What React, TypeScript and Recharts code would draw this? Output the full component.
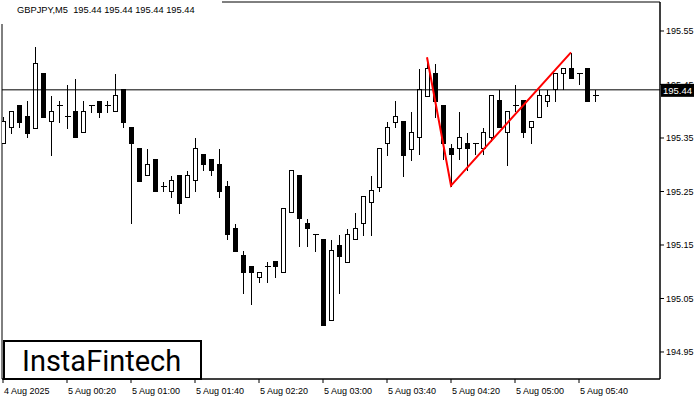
import React from "react";
import {
  ComposedChart,
  Bar,
  Line,
  XAxis,
  YAxis,
  ReferenceLine,
  ReferenceArea,
} from "recharts";

// GBPJPY M5 candles, one every 5 minutes from 4 Aug 23:40
const opens = [
  195.34, 195.37, 195.412, 195.391, 195.369, 195.471, 195.381, 195.411, 195.391, 195.4,
  195.361, 195.411, 195.42, 195.411, 195.4, 195.441, 195.371, 195.331, 195.28, 195.31,
  195.26, 195.25, 195.28, 195.24, 195.271, 195.32, 195.31, 195.301, 195.26, 195.181,
  195.131, 195.111, 195.09, 195.111, 195.121, 195.1, 195.211, 195.281, 195.192, 195.171,
  195.161, 195.009, 195.15, 195.119, 195.161, 195.191, 195.23, 195.259, 195.34, 195.38,
  195.382, 195.329, 195.351, 195.429, 195.471, 195.412, 195.332, 195.331, 195.34, 195.34,
  195.331, 195.351, 195.421, 195.361, 195.412, 195.421, 195.37, 195.39, 195.42, 195.441,
  195.471, 195.48, 195.471, 195.48, 195.43,
];
const highs = [
  195.391, 195.4, 195.412, 195.421, 195.522, 195.471, 195.43, 195.421, 195.451, 195.462,
  195.421, 195.412, 195.421, 195.421, 195.471, 195.441, 195.371, 195.331, 195.331, 195.31,
  195.27, 195.28, 195.28, 195.29, 195.351, 195.32, 195.31, 195.331, 195.271, 195.191,
  195.141, 195.111, 195.1, 195.121, 195.121, 195.22, 195.29, 195.281, 195.201, 195.171,
  195.161, 195.161, 195.171, 195.181, 195.212, 195.242, 195.281, 195.331, 195.382, 195.421,
  195.382, 195.4, 195.48, 195.501, 195.491, 195.412, 195.34, 195.4, 195.361, 195.34,
  195.371, 195.43, 195.441, 195.4, 195.451, 195.421, 195.382, 195.441, 195.441, 195.471,
  195.48, 195.51, 195.471, 195.48, 195.441,
];
const lows = [
  195.34, 195.36, 195.37, 195.351, 195.369, 195.39, 195.319, 195.38, 195.369, 195.351,
  195.361, 195.399, 195.39, 195.399, 195.4, 195.37, 195.191, 195.27, 195.28, 195.25,
  195.25, 195.24, 195.21, 195.24, 195.25, 195.29, 195.28, 195.24, 195.161, 195.139,
  195.06, 195.039, 195.08, 195.08, 195.09, 195.1, 195.211, 195.149, 195.149, 195.139,
  195.0, 195.009, 195.06, 195.119, 195.161, 195.169, 195.169, 195.25, 195.318, 195.37,
  195.279, 195.309, 195.32, 195.429, 195.389, 195.31, 195.261, 195.31, 195.29, 195.32,
  195.32, 195.345, 195.37, 195.3, 195.401, 195.351, 195.34, 195.39, 195.41, 195.42,
  195.441, 195.462, 195.45, 195.42, 195.42,
];
const closes = [
  195.382, 195.4, 195.38, 195.36, 195.491, 195.39, 195.4, 195.411, 195.391, 195.351,
  195.4, 195.411, 195.399, 195.411, 195.43, 195.38, 195.34, 195.27, 195.301, 195.25,
  195.26, 195.271, 195.229, 195.28, 195.331, 195.301, 195.29, 195.25, 195.17, 195.139,
  195.1, 195.1, 195.1, 195.111, 195.11, 195.22, 195.29, 195.2, 195.181, 195.171,
  195.0, 195.141, 195.13, 195.171, 195.181, 195.242, 195.252, 195.331, 195.37, 195.391,
  195.318, 195.361, 195.441, 195.48, 195.42, 195.34, 195.32, 195.351, 195.331, 195.34,
  195.361, 195.43, 195.37, 195.4, 195.412, 195.361, 195.382, 195.43, 195.43, 195.471,
  195.48, 195.462, 195.471, 195.42, 195.43,
];

const timeTickBars = [0, 8, 16, 24, 32, 40, 48, 56, 64, 72];
const timeTickLabels = [
  "4 Aug 2025",
  "5 Aug 00:20",
  "5 Aug 01:00",
  "5 Aug 01:40",
  "5 Aug 02:20",
  "5 Aug 03:00",
  "5 Aug 03:40",
  "5 Aug 04:20",
  "5 Aug 05:00",
  "5 Aug 05:40",
];
const priceTicks = [194.95, 195.05, 195.15, 195.25, 195.35, 195.45, 195.55];

// red pattern line: top, bottom, top
const patternBars = [53, 56, 71];
const patternPrices = [195.501, 195.261, 195.51];

const lastPrice = 195.44;

const X_DOMAIN: [number, number] = [-0.125, 82.125];
const Y_DOMAIN: [number, number] = [194.8995, 195.6042];
const FONT = "'Liberation Sans', Arial, sans-serif";

const data = opens.map((o, i) => {
  const k = patternBars.indexOf(i);
  return {
    i,
    open: o,
    high: highs[i],
    low: lows[i],
    close: closes[i],
    range: [lows[i], highs[i]],
    pattern: k >= 0 ? patternPrices[k] : null,
  };
});

function Candle(props: any) {
  const { x, y, width, height, payload } = props;
  if (!payload) return null;
  const cx = Math.round(x + width / 2) + 0.5;
  const k = Math.abs(height) / (payload.high - payload.low);
  const top = Math.min(y, y + height);
  const py = (p: number) => top + (payload.high - p) * k;
  const yh = Math.round(py(payload.high)) + 0.5;
  const yl = Math.round(py(payload.low)) + 0.5;
  const bTop = Math.round(py(Math.max(payload.open, payload.close))) + 0.5;
  const bBot = Math.round(py(Math.min(payload.open, payload.close))) + 0.5;
  const bull = payload.close > payload.open;
  return (
    <g shapeRendering="crispEdges">
      <line x1={cx} x2={cx} y1={yh} y2={yl} stroke="#000" strokeWidth={1} />
      {bBot - bTop < 1 ? (
        <line x1={cx - 3} x2={cx + 3} y1={bTop} y2={bTop} stroke="#000" strokeWidth={1} />
      ) : (
        <rect
          x={cx - 2}
          y={bTop}
          width={4}
          height={bBot - bTop}
          fill={bull ? "#fff" : "#000"}
          stroke="#000"
          strokeWidth={1}
        />
      )}
    </g>
  );
}

function TimeTick(props: any) {
  const { x, y, payload } = props;
  const idx = timeTickBars.indexOf(payload.value);
  return (
    <text x={x + 1} y={y + 9} fontSize={9} fontFamily={FONT} fill="#000" textAnchor="start">
      {idx >= 0 ? timeTickLabels[idx] : ""}
    </text>
  );
}

function PriceTag(props: any) {
  const vb = props.viewBox || {};
  const x0 = vb.x + vb.width + 1;
  const y0 = vb.y;
  return (
    <g>
      <rect x={x0} y={y0 - 6} width={33} height={13} fill="#000" />
      <text x={x0 + 2} y={y0 + 4} fontSize={9.5} fontFamily={FONT} fill="#fff">
        {lastPrice.toFixed(2)}
      </text>
    </g>
  );
}

export default function App() {
  return (
    <div style={{ position: "absolute", left: 0, top: 0, width: 700, height: 400, background: "#fff" }}>
      <ComposedChart
        width={700}
        height={400}
        data={data}
        margin={{ top: 2, right: 0, left: 2, bottom: 0 }}
      >
        <XAxis
          dataKey="i"
          type="number"
          domain={X_DOMAIN}
          ticks={timeTickBars}
          interval={0}
          height={21}
          axisLine={{ stroke: "#000" }}
          tickLine={{ stroke: "#000" }}
          tickSize={4}
          tick={<TimeTick />}
          allowDataOverflow
        />
        <YAxis
          orientation="right"
          type="number"
          domain={Y_DOMAIN}
          ticks={priceTicks}
          interval={0}
          width={40}
          axisLine={{ stroke: "#000" }}
          tickLine={{ stroke: "#000" }}
          tickSize={4}
          tickMargin={2}
          tick={{ fontSize: 9, fontFamily: FONT, fill: "#000", textAnchor: "start" }}
          tickFormatter={(v: number) => v.toFixed(2)}
          allowDataOverflow
        />
        <ReferenceArea
          x1={X_DOMAIN[0]}
          x2={X_DOMAIN[1]}
          y1={Y_DOMAIN[0]}
          y2={Y_DOMAIN[1]}
          fill="none"
          stroke="#000"
          strokeWidth={1}
        />
        <ReferenceLine y={lastPrice} stroke="#000" strokeWidth={1} label={<PriceTag />} />
        <Bar
          dataKey="range"
          barSize={5}
          shape={<Candle />}
          isAnimationActive={false}
        />
        <Line
          dataKey="pattern"
          type="linear"
          stroke="#ff0000"
          strokeWidth={2}
          dot={false}
          connectNulls
          isAnimationActive={false}
        />
      </ComposedChart>
      <div
        style={{
          position: "absolute",
          left: 0,
          top: 0,
          width: 222,
          height: 24,
          background: "#fff",
        }}
      >
        <span
          style={{
            position: "absolute",
            left: 17,
            top: 5,
            fontSize: 9.3,
            fontFamily: FONT,
            color: "#000",
            whiteSpace: "pre",
          }}
        >
          {"GBPJPY,M5  195.44 195.44 195.44 195.44"}
        </span>
      </div>
      <div
        style={{
          position: "absolute",
          left: 3,
          top: 340,
          width: 199,
          height: 40,
          boxSizing: "border-box",
          border: "2px solid #000",
          background: "#fff",
        }}
      >
        <span
          style={{
            position: "absolute",
            left: 17,
            top: 2,
            fontSize: 29,
            fontFamily: "Roboto, sans-serif",
            color: "#000",
            whiteSpace: "pre",
          }}
        >
          InstaFintech
        </span>
      </div>
    </div>
  );
}
